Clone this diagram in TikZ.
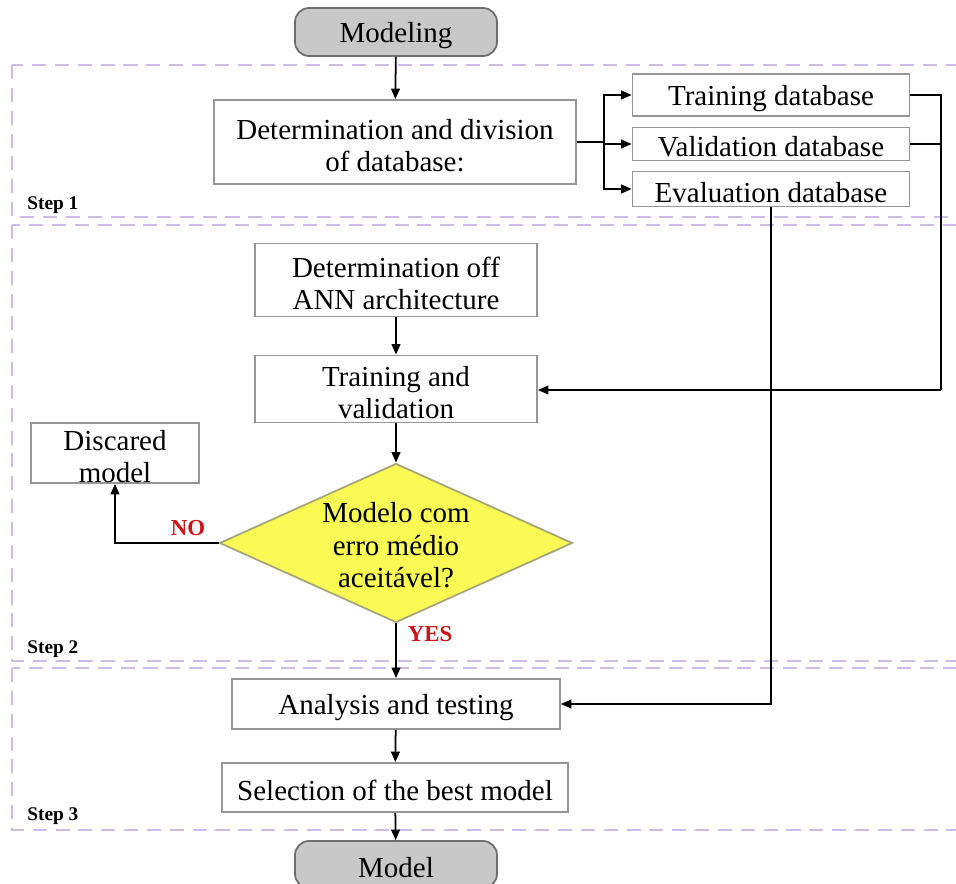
\documentclass[tikz,border=0pt]{standalone}
\usepackage{fontspec}
\setmainfont{Liberation Serif}
\usepackage{xcolor}
\usepackage{tikz}
\usetikzlibrary{shapes,arrows,positioning,calc,arrows.meta}

\definecolor{boxgray}{RGB}{150,150,150}
\definecolor{termfill}{RGB}{200,200,200}
\definecolor{termline}{RGB}{110,110,110}
\definecolor{stepline}{RGB}{205,188,232}
\definecolor{decfill}{RGB}{250,250,85}
\definecolor{decline}{RGB}{165,165,120}
\definecolor{answer}{RGB}{205,20,25}

\begin{document}
\begin{tikzpicture}[x=0.02cm, y=-0.02cm,
    every node/.style={font=\fontsize{16.5}{18.5}\selectfont, align=center, inner sep=0pt},
    procbox/.style={draw=boxgray, line width=1pt, fill=white},
    oneline/.style={text height=15pt},
    twoline/.style={text height=34pt},
    termbox/.style={draw=termline, line width=1pt, fill=termfill, rounded corners=8pt,
        minimum width=4.04cm, minimum height=0.96cm, oneline},
    decbox/.style={diamond, draw=decline, line width=1pt, fill=decfill, aspect=2.22,
        minimum width=7.06cm, minimum height=3.18cm, inner sep=-6pt, text height=51pt},
    stage/.style={draw=stepline, line width=1pt, dash pattern=on 8pt off 5pt},
    stagelabel/.style={font=\fontsize{11}{13}\selectfont\bfseries, anchor=base west},
    answerlabel/.style={font=\fontsize{13}{15}\selectfont\bfseries, text=answer},
    flow/.style={-{Triangle[length=6pt,width=5pt]}, line width=1pt},
    link/.style={line width=1pt}]
    \useasboundingbox (0,0) rectangle (956,884);

    % Step frames
    \draw[stage] (12,65) rectangle (962,217);
    \draw[stage] (12,225) rectangle (962,661);
    \draw[stage] (12,668) rectangle (962,830);
    \node[stagelabel] (s1) at (27,210) {Step 1};
    \node[stagelabel] (s2) at (27,653) {Step 2};
    \node[stagelabel] (s3) at (27,820) {Step 3};

    % Step 1
    \node[termbox] (modeling) at (396,32) {Modeling};
    \node[procbox, twoline, minimum width=7.24cm, minimum height=1.68cm] (division) at (395,142)
        {Determination and division\\of database:};
    \node[procbox, oneline, minimum width=5.54cm, minimum height=0.84cm] (trainDB) at (771,95) {Training database};
    \node[procbox, oneline, minimum width=5.54cm, minimum height=0.66cm] (validDB) at (771,144) {Validation database};
    \node[procbox, oneline, minimum width=5.54cm, minimum height=0.70cm] (evalDB) at (771,189) {Evaluation database};
    \coordinate (split) at (604,142);
    \coordinate (bus) at (941,390);

    \draw[flow] (modeling) -- (division);
    \draw[link] (division.east) -- (split);
    \draw[flow] (split) |- (trainDB.west);
    \draw[flow] (split) |- (validDB.west);
    \draw[flow] (split) |- (evalDB.west);

    % Step 2
    \node[procbox, twoline, minimum width=5.64cm, minimum height=1.46cm] (arch) at (396,280)
        {Determination off\\ANN architecture};
    \node[procbox, twoline, minimum width=5.64cm, minimum height=1.34cm] (trainval) at (396,389)
        {Training and\\validation};
    \node[procbox, twoline, minimum width=3.36cm, minimum height=1.2cm] (discard) at (115,453)
        {Discared\\model};
    \node[decbox] (check) at (396,543)
        {Modelo com\\erro médio\\aceitável?};

    \draw[flow] (arch) -- (trainval);
    \draw[link] (trainDB.east) -| (bus);
    \draw[link] (validDB.east) -| (bus);
    \draw[flow] (bus) -- (trainval.east |- bus);
    \draw[flow] (trainval) -- (check);
    \draw[flow] (check.west) -| (discard.south);
    \node[answerlabel] (no) at (188,528) {NO};

    % Step 3
    \node[procbox, oneline, minimum width=6.56cm, minimum height=1.0cm] (analysis) at (396,704)
        {Analysis and testing};
    \node[procbox, oneline, minimum width=6.92cm, minimum height=0.98cm] (select) at (395,787.5)
        {Selection of the best model};
    \node[termbox, minimum height=0.94cm] (model) at (396,864.5) {Model};

    \draw[flow] (check.south) -- (analysis.north);
    \node[answerlabel] (yes) at (430,634) {YES};
    \draw[flow] (evalDB.south) |- (analysis.east);
    \draw[flow] (analysis) -- (select);
    \draw[flow] (select) -- (model);
\end{tikzpicture}
\end{document}
